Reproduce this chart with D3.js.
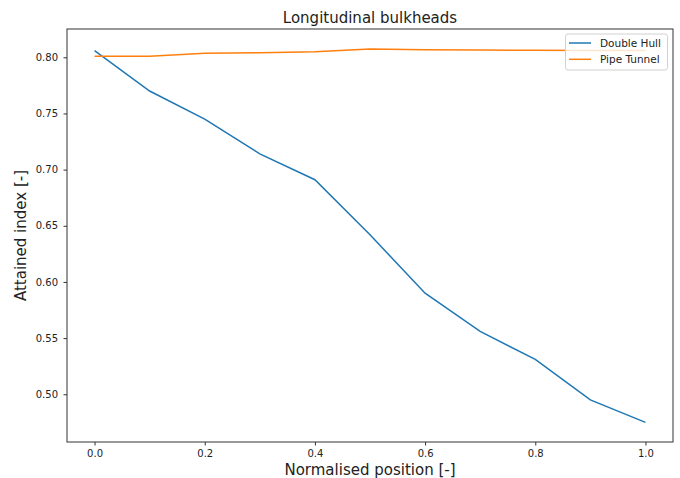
<!DOCTYPE html>
<html lang="en">
<head>
    <meta charset="UTF-8">
    <title>Longitudinal bulkheads</title>
    <script src="https://d3js.org/d3.v7.min.js"></script>
    <style>
        body { margin: 0; background: #fff; }
        svg { font-family: "DejaVu Sans", sans-serif; }
    </style>
</head>
<body>
<div id="chart"></div>
<script>
// data
const positions = [0.0, 0.1, 0.2, 0.3, 0.4, 0.5, 0.6, 0.7, 0.8, 0.9, 1.0];
const doubleHull = [0.806, 0.770, 0.745, 0.714, 0.691, 0.642, 0.590, 0.556, 0.531, 0.495, 0.475];
const pipeTunnel = [0.801, 0.801, 0.8035, 0.804, 0.805, 0.8073, 0.8068, 0.8065, 0.8062, 0.806, 0.806];
const seriesNames = ["Double Hull", "Pipe Tunnel"];
const xTicks = [0.0, 0.2, 0.4, 0.6, 0.8, 1.0];
const yTicks = [0.50, 0.55, 0.60, 0.65, 0.70, 0.75, 0.80];

const width = 680;
const height = 478;
const margin = { top: 29, right: 7, bottom: 36, left: 67 };
const colors = ["#1f77b4", "#ff7f0e"];

const svg = d3.select("#chart")
    .append("svg")
    .attr("width", width)
    .attr("height", height);

const x = d3.scaleLinear()
    .domain([-0.05, 1.05])
    .range([margin.left, width - margin.right]);

const y = d3.scaleLinear()
    .domain([0.4575, 0.8252])
    .range([height - margin.bottom, margin.top]);

// axes
const xAxis = svg.append("g")
    .attr("transform", `translate(0,${height - margin.bottom})`)
    .call(d3.axisBottom(x).tickValues(xTicks).tickFormat(d3.format(".1f")).tickSize(3.5).tickPadding(4));

const yAxis = svg.append("g")
    .attr("transform", `translate(${margin.left},0)`)
    .call(d3.axisLeft(y).tickValues(yTicks).tickFormat(d3.format(".2f")).tickSize(3.5).tickPadding(5.5));

[xAxis, yAxis].forEach(g => {
    g.select(".domain").remove();
    g.selectAll("line").attr("stroke", "#333");
    g.selectAll("text").attr("fill", "#222").style("font-size", "10px").style("font-family", "DejaVu Sans, sans-serif");
});

// frame
svg.append("rect")
    .attr("x", margin.left)
    .attr("y", margin.top)
    .attr("width", width - margin.left - margin.right)
    .attr("height", height - margin.top - margin.bottom)
    .attr("fill", "none")
    .attr("stroke", "#333")
    .attr("stroke-width", 1);

// lines
const line = d3.line()
    .x((d, i) => x(positions[i]))
    .y(d => y(d));

[doubleHull, pipeTunnel].forEach((values, i) => {
    svg.append("path")
        .datum(values)
        .attr("fill", "none")
        .attr("stroke", colors[i])
        .attr("stroke-width", 1.5)
        .attr("d", line);
});

// title and axis labels
svg.append("text")
    .attr("x", (margin.left + width - margin.right) / 2)
    .attr("y", 22.5)
    .attr("text-anchor", "middle")
    .style("font-size", "15px")
    .attr("fill", "#222")
    .text("Longitudinal bulkheads");

svg.append("text")
    .attr("x", (margin.left + width - margin.right) / 2)
    .attr("y", 475)
    .attr("text-anchor", "middle")
    .style("font-size", "15px")
    .attr("fill", "#222")
    .text("Normalised position [-]");

svg.append("text")
    .attr("transform", `translate(26,${(margin.top + height - margin.bottom) / 2}) rotate(-90)`)
    .attr("text-anchor", "middle")
    .style("font-size", "15px")
    .attr("fill", "#222")
    .text("Attained index [-]");

// legend
const legend = svg.append("g").attr("transform", "translate(565.5,34)");
legend.append("rect")
    .attr("width", 102)
    .attr("height", 36)
    .attr("rx", 2.5)
    .attr("fill", "#fff")
    .attr("fill-opacity", 0.8)
    .attr("stroke", "#d0d0d0");

const entry = legend.selectAll("g.entry")
    .data(seriesNames)
    .join("g")
    .attr("class", "entry")
    .attr("transform", (d, i) => `translate(0,${9 + i * 16.3})`);

entry.append("line")
    .attr("x1", 3.5)
    .attr("x2", 25.5)
    .attr("stroke", (d, i) => colors[i])
    .attr("stroke-width", 1.5);

entry.append("text")
    .attr("x", 34.5)
    .attr("dy", "0.36em")
    .style("font-size", "10.5px")
    .attr("fill", "#222")
    .text(d => d);
</script>
</body>
</html>
